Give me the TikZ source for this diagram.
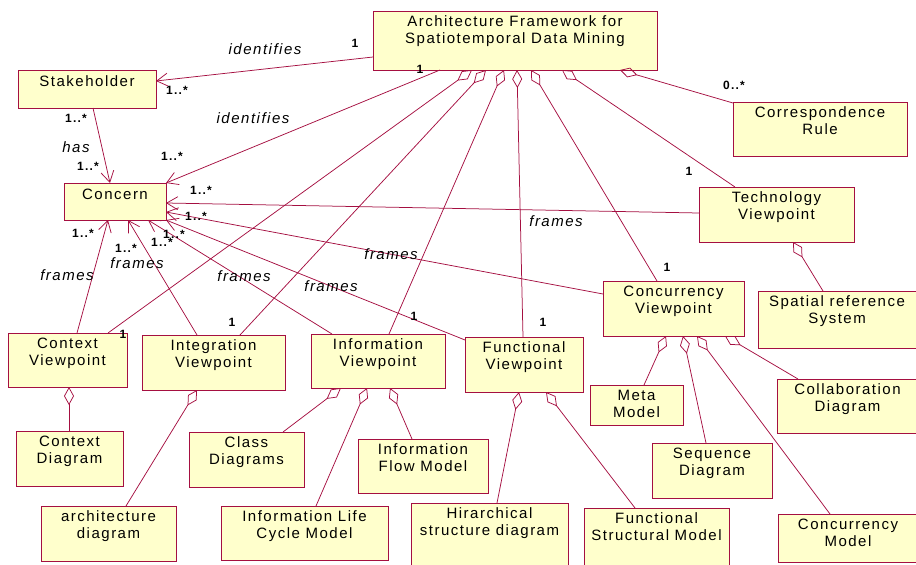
\documentclass[tikz,border=0pt]{standalone}
\usepackage{fontspec}
\setmainfont{Liberation Sans}
\newfontfamily\rosefont[LetterSpace=10]{Liberation Sans}
\usetikzlibrary{arrows.meta,calc}
\definecolor{roseline}{RGB}{165,15,65}
\definecolor{rosefill}{RGB}{255,255,204}
\tikzset{
  box/.style={draw=roseline, fill=rosefill, line width=0.8pt, anchor=north west,
    inner sep=0pt, outer sep=0pt},
  boxtext/.style={anchor=north, align=center, inner sep=0pt, yshift=-4.6pt,
    font=\rosefont\fontsize{15}{17}\selectfont, execute at begin node=\strut},
  dep/.style={draw=roseline, line width=0.75pt, -{Straight Barb[length=11pt,width=13pt]}},
  agg/.style={draw=roseline, line width=0.75pt, {Diamond[open,length=18pt,width=10pt]}-},
  role/.style={font=\rosefont\fontsize{15}{17}\selectfont\itshape, inner sep=0pt},
  mult/.style={font=\rosefont\fontsize{12}{14}\selectfont\bfseries, inner sep=0pt}
}
\begin{document}
\begin{tikzpicture}[x=1pt,y=-1pt]
\useasboundingbox (0,0) rectangle (916,565);
% classes
\node[box, minimum width=284, minimum height=59, label={[boxtext]north:Architecture Framework for\\Spatiotemporal Data Mining}] (arch) at (373,11) {};
\node[box, minimum width=138, minimum height=38, label={[boxtext]north:Stakeholder}] (stake) at (18,70) {};
\node[box, minimum width=102, minimum height=37, label={[boxtext]north:Concern}] (concern) at (64,183) {};
\node[box, minimum width=174, minimum height=54, label={[boxtext]north:Correspondence\\Rule}] (corr) at (733,102) {};
\node[box, minimum width=155, minimum height=55, label={[boxtext]north:Technology\\Viewpoint}] (tech) at (699,187) {};
\node[box, minimum width=158, minimum height=57, label={[boxtext]north:Spatial reference\\System}] (spatial) at (758,291) {};
\node[box, minimum width=141, minimum height=55, label={[boxtext]north:Concurrency\\Viewpoint}] (concvp) at (603,281) {};
\node[box, minimum width=118, minimum height=55, label={[boxtext]north:Functional\\Viewpoint}] (func) at (465,337) {};
\node[box, minimum width=119, minimum height=54, label={[boxtext]north:Context\\Viewpoint}] (context) at (8,333) {};
\node[box, minimum width=143, minimum height=55, label={[boxtext]north:Integration\\Viewpoint}] (integ) at (142,335) {};
\node[box, minimum width=134, minimum height=54, label={[boxtext]north:Information\\Viewpoint}] (info) at (311,334) {};
% diagrams and models
\node[box, minimum width=107, minimum height=55, label={[boxtext]north:Context\\Diagram}] (ctxdiag) at (16,431) {};
\node[box, minimum width=135, minimum height=55, label={[boxtext]north:architecture\\diagram}] (archdiag) at (41,506) {};
\node[box, minimum width=115, minimum height=55, label={[boxtext]north:Class\\Diagrams}] (classdiag) at (189,432) {};
\node[box, minimum width=130, minimum height=54, label={[boxtext]north:Information\\Flow Model}] (flow) at (358,439) {};
\node[box, minimum width=167, minimum height=54, label={[boxtext]north:Information Life\\Cycle Model}] (lifecycle) at (221,506) {};
\node[box, minimum width=157, minimum height=72, label={[boxtext]north:Hirarchical\\structure diagram}] (hier) at (411,503) {};
\node[box, minimum width=145, minimum height=72, label={[boxtext]north:Functional\\Structural Model}] (funcstruct) at (584,508) {};
\node[box, minimum width=93, minimum height=40, label={[boxtext]north:Meta\\Model}] (meta) at (590,385) {};
\node[box, minimum width=120, minimum height=55, label={[boxtext]north:Sequence\\Diagram}] (sequence) at (652,443) {};
\node[box, minimum width=141, minimum height=54, label={[boxtext]north:Collaboration\\Diagram}] (collab) at (777,379) {};
\node[box, minimum width=140, minimum height=48, label={[boxtext]north:Concurrency\\Model}] (concmodel) at (778,514) {};
% dependencies
\draw[dep] ($(arch.south west)+(0,-13)$) -- ($(stake.north east)+(0,11)$);
\draw[dep] ($(arch.south west)+(67,0)$) -- (concern.north east);
\draw[dep] ($(stake.south west)+(75,0)$) -- ($(concern.north west)+(46,0)$);
\draw[dep] ($(context.north west)+(69,0)$) -- ($(concern.south west)+(44,0)$);
\draw[dep] ($(integ.north west)+(55,0)$) -- ($(concern.south west)+(64,0)$);
\draw[dep] ($(info.north west)+(21,0)$) -- ($(concern.south west)+(84,0)$);
\draw[dep] ($(func.north west)+(0,3)$) -- (concern.south east);
\draw[dep] ($(concvp.north west)+(0,13)$) -- ($(concern.north east)+(0,29)$);
\draw[dep] ($(tech.north west)+(0,26)$) -- ($(concern.north east)+(0,20)$);
% aggregations of the framework
\draw[agg] ($(arch.south west)+(99,0)$) -- ($(context.north east)+(-19,0)$);
\draw[agg] ($(arch.south west)+(113,0)$) -- ($(integ.north west)+(98,0)$);
\draw[agg] ($(arch.south west)+(131,0)$) -- ($(info.north west)+(78,0)$);
\draw[agg] ($(arch.south west)+(144,0)$) -- ($(func.north west)+(58,0)$);
\draw[agg] ($(arch.south west)+(158,0)$) -- ($(concvp.north west)+(54,0)$);
\draw[agg] ($(arch.south west)+(189,0)$) -- ($(tech.north west)+(36,0)$);
\draw[agg] ($(arch.south west)+(247,0)$) -- ($(corr.north west)+(0,1)$);
% aggregations of the viewpoints
\draw[agg] ($(context.south west)+(61,0)$) -- ($(ctxdiag.north west)+(53,0)$);
\draw[agg] ($(integ.south west)+(55,0)$) -- ($(archdiag.north west)+(85,0)$);
\draw[agg] ($(info.south west)+(30,0)$) -- ($(classdiag.north west)+(94,0)$);
\draw[agg] ($(info.south west)+(56,0)$) -- ($(lifecycle.north west)+(95,0)$);
\draw[agg] ($(info.south west)+(79,0)$) -- ($(flow.north west)+(54,0)$);
\draw[agg] ($(func.south west)+(54,0)$) -- ($(hier.north west)+(86,0)$);
\draw[agg] ($(func.south west)+(81,0)$) -- ($(funcstruct.north west)+(51,0)$);
\draw[agg] ($(tech.south west)+(94,0)$) -- ($(spatial.north west)+(65,0)$);
\draw[agg] ($(concvp.south west)+(63,0)$) -- ($(meta.north west)+(54,0)$);
\draw[agg] ($(concvp.south west)+(80,0)$) -- ($(sequence.north west)+(54,0)$);
\draw[agg] ($(concvp.south west)+(94,0)$) -- ($(concmodel.north west)+(52,0)$);
\draw[agg] ($(concvp.south west)+(122,0)$) -- ($(collab.north west)+(21,0)$);
% role names
\node[role] (idA) at (265,49) {identifies};
\node[role] (idB) at (253,118) {identifies};
\node[role] (has) at (76,147) {has};
\node[role] (frA) at (67,275) {frames};
\node[role] (frB) at (137,263) {frames};
\node[role] (frC) at (244,276) {frames};
\node[role] (frD) at (331,286) {frames};
\node[role] (frE) at (391,254) {frames};
\node[role] (frF) at (556,221) {frames};
% multiplicities
\foreach \name/\txt/\x/\y in {m1/1/355/43, m2/1/420/69, m3/1..*/177/90, m4/1..*/76/118,
  m5/1..*/88/166, m6/1..*/172/156, m7/1..*/201/190, m8/0..*/734/85, m9/1/689/171,
  m10/1..*/83/233, m11/1..*/126/248, m12/1..*/162/242, m13/1..*/174/234,
  m14/1..*/196/216, m15/1/123/334, m16/1/232/322, m17/1/414/316, m18/1/543/322,
  m19/1/667/267}{
  \node[mult] (\name) at (\x,\y) {\txt};
}
\end{tikzpicture}
\end{document}
